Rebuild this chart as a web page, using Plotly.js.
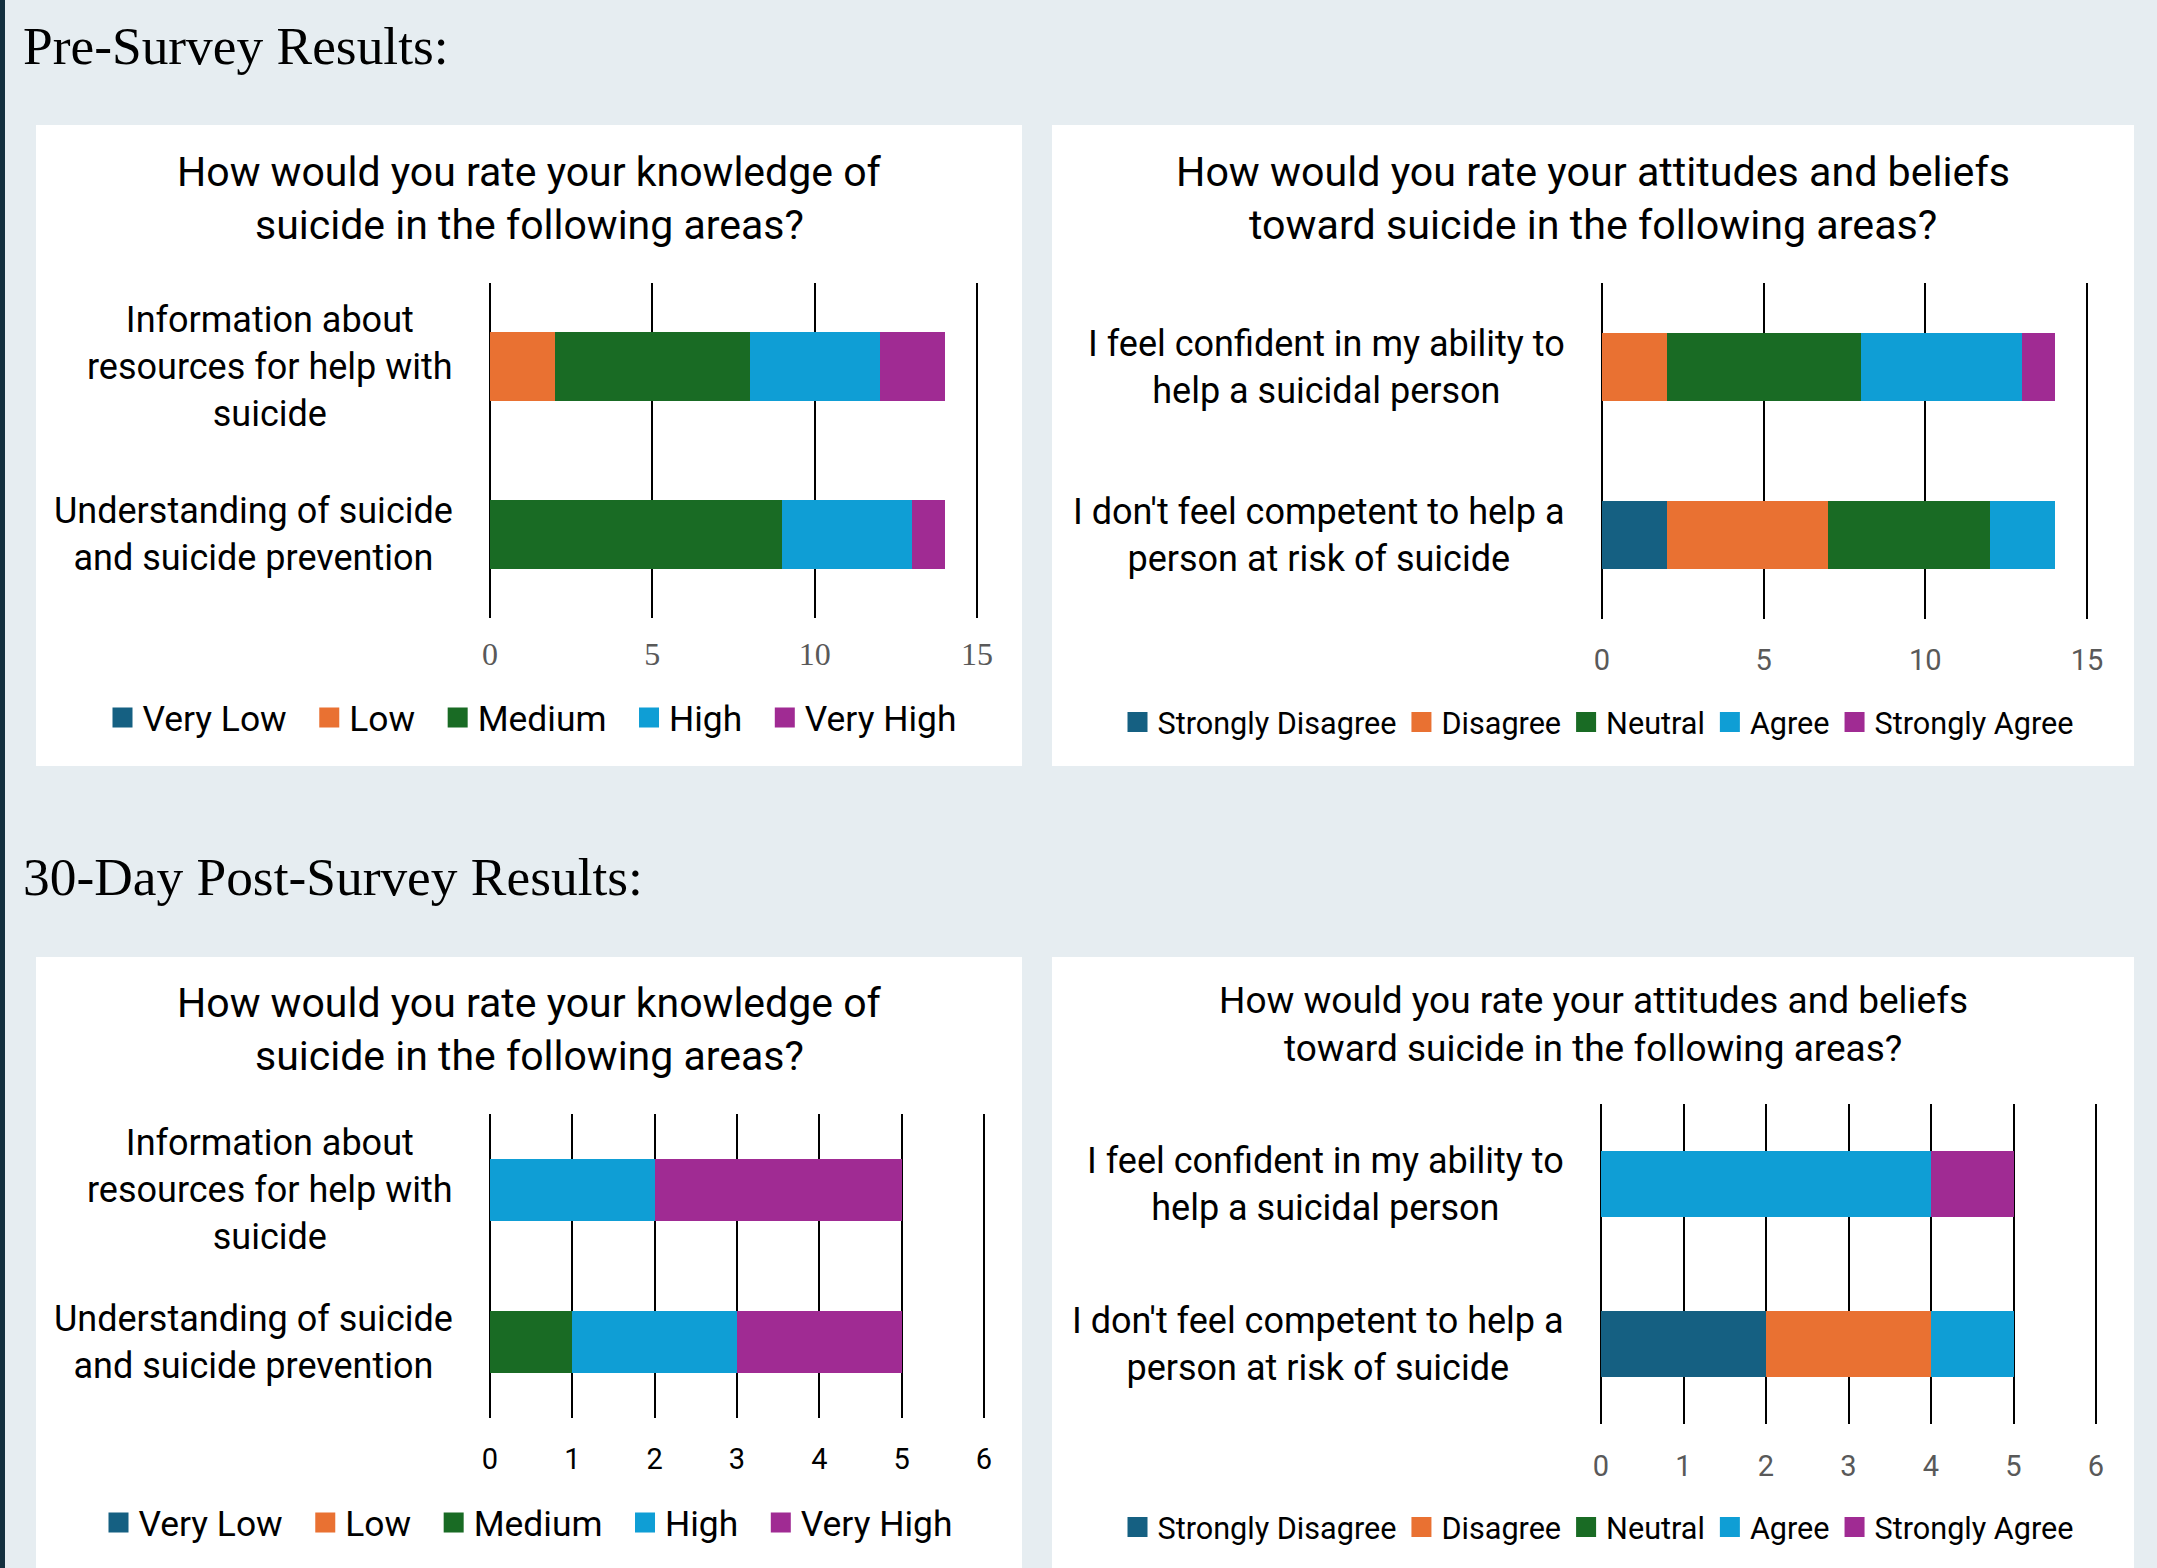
<!DOCTYPE html>
<html>
<head>
<meta charset="utf-8">
<script src="https://cdn.plot.ly/plotly-3.0.1.min.js"></script>
<style>
  html, body { margin: 0; padding: 0; background: #E6EDF1; }
  #chart { width: 2157px; height: 1568px; }
</style>
</head>
<body>
<div id="chart"></div>
<script>
// ---------------- DATA ----------------
const knowledgeCategories = ['Information about resources for help with suicide', 'Understanding of suicide and suicide prevention'];
const knowledgeTickLabels = ['Information about<br>resources for help with<br>suicide', 'Understanding of suicide<br>and suicide prevention'];
const attitudeCategories = ['I feel confident in my ability to help a suicidal person', "I don't feel competent to help a person at risk of suicide"];
const attitudeTickLabels = ['I feel confident in my ability to<br>help a suicidal person', "I don't feel competent to help a<br>person at risk of suicide"];

const knowledgeLevels = ['Very Low', 'Low', 'Medium', 'High', 'Very High'];
const attitudeLevels = ['Strongly Disagree', 'Disagree', 'Neutral', 'Agree', 'Strongly Agree'];

// Pre-survey knowledge
const preKnowVeryLow  = [0, 0];
const preKnowLow      = [2, 0];
const preKnowMedium   = [6, 9];
const preKnowHigh     = [4, 4];
const preKnowVeryHigh = [2, 1];
// Pre-survey attitudes
const preAttStronglyDisagree = [0, 2];
const preAttDisagree         = [2, 5];
const preAttNeutral          = [6, 5];
const preAttAgree            = [5, 2];
const preAttStronglyAgree    = [1, 0];
// Post-survey knowledge
const postKnowVeryLow  = [0, 0];
const postKnowLow      = [0, 0];
const postKnowMedium   = [0, 1];
const postKnowHigh     = [2, 2];
const postKnowVeryHigh = [3, 2];
// Post-survey attitudes
const postAttStronglyDisagree = [0, 2];
const postAttDisagree         = [0, 2];
const postAttNeutral          = [0, 0];
const postAttAgree            = [4, 1];
const postAttStronglyAgree    = [1, 0];

const preTicks = [0, 5, 10, 15];
const postTicks = [0, 1, 2, 3, 4, 5, 6];

// ---------------- STYLE ----------------
const levelColors = ['#156082', '#E97132', '#196B24', '#0F9ED5', '#A02B93'];
const SANS = 'Roboto, "Liberation Sans", Arial, sans-serif';
const SERIF = '"Liberation Serif", "Times New Roman", serif';
const W = 2157, H = 1568;
const fx = p => p / W;
const fy = p => 1 - p / H;
const NB = '\u00A0\u00A0';

function makeTraces(levels, seriesList, cats, xa, ya, legendId, pad) {
  return levels.map((lvl, i) => ({
    type: 'bar', orientation: 'h', name: lvl + (pad && i < levels.length - 1 ? NB : ''),
    x: seriesList[i], y: cats,
    xaxis: xa, yaxis: ya, legend: legendId,
    marker: { color: levelColors[i], line: { width: 0 } },
    hoverinfo: 'skip'
  }));
}

const traces = [].concat(
  makeTraces(knowledgeLevels, [preKnowVeryLow, preKnowLow, preKnowMedium, preKnowHigh, preKnowVeryHigh], knowledgeCategories, 'x', 'y', 'legend', true),
  makeTraces(attitudeLevels, [preAttStronglyDisagree, preAttDisagree, preAttNeutral, preAttAgree, preAttStronglyAgree], attitudeCategories, 'x2', 'y2', 'legend2', false),
  makeTraces(knowledgeLevels, [postKnowVeryLow, postKnowLow, postKnowMedium, postKnowHigh, postKnowVeryHigh], knowledgeCategories, 'x3', 'y3', 'legend3', true),
  makeTraces(attitudeLevels, [postAttStronglyDisagree, postAttDisagree, postAttNeutral, postAttAgree, postAttStronglyAgree], attitudeCategories, 'x4', 'y4', 'legend4', false)
);

function xAxis(x0, x1, ticks, anchor, font, standoff) {
  const lo = ticks[0], hi = ticks[ticks.length - 1];
  const unit = (x1 - x0) / (hi - lo);
  const padPx = 2, padU = padPx / unit;
  return {
    domain: [fx(x0 - padPx), fx(x1 + padPx)], anchor: anchor,
    range: [lo - padU, hi + padU],
    tickvals: ticks, ticktext: ticks.map(String),
    showgrid: true, gridcolor: '#000000', gridwidth: 2,
    zeroline: false, showline: false, ticks: '',
    tickfont: font, ticklabelstandoff: standoff,
    fixedrange: true
  };
}
function yAxis(domain, cats, anchor) {
  return {
    domain: domain, anchor: anchor, type: 'category',
    categoryorder: 'array', categoryarray: cats,
    autorange: 'reversed',
    showgrid: false, zeroline: false, showline: false,
    showticklabels: false, ticks: '', fixedrange: true
  };
}
function legendCfg(xc, yc, size) {
  return {
    orientation: 'h', x: fx(xc), xanchor: 'center', y: fy(yc), yanchor: 'middle',
    font: { family: SANS, size: size, color: '#000000' },
    bgcolor: 'rgba(0,0,0,0)', traceorder: 'normal', itemclick: false, itemdoubleclick: false
  };
}

const panelShapes = [
  [36, 125, 1022, 766], [1052, 125, 2134, 766],
  [36, 957, 1022, 1568], [1052, 957, 2134, 1568]
].map(r => ({
  type: 'rect', xref: 'paper', yref: 'paper', layer: 'below',
  x0: fx(r[0]), x1: fx(r[2]), y0: fy(r[3]), y1: fy(r[1]),
  fillcolor: '#FFFFFF', line: { width: 0 }
}));
panelShapes.push({
  type: 'rect', xref: 'paper', yref: 'paper', layer: 'above',
  x0: 0, x1: fx(5), y0: 0, y1: 1, fillcolor: '#13303F', line: { width: 0 }
});

const annotations = [];
function textAnn(text, x, y, size, family, xanchor) {
  annotations.push({
    text: text, xref: 'paper', yref: 'paper', x: fx(x), y: fy(y),
    xanchor: xanchor || 'center', yanchor: 'middle', showarrow: false,
    font: { family: family || SANS, size: size, color: '#000000' }
  });
}
// Section headings
textAnn('Pre-Survey Results:', 21, 46, 53.4, SERIF, 'left');
textAnn('30-Day Post-Survey Results:', 21, 877, 53.4, SERIF, 'left');
// Chart titles
textAnn('How would you rate your knowledge of', 529, 172, 41);
textAnn('suicide in the following areas?', 529, 225, 41);
textAnn('How would you rate your attitudes and beliefs', 1593, 172, 41.2);
textAnn('toward suicide in the following areas?', 1593, 225, 41.2);
textAnn('How would you rate your knowledge of', 529, 1003, 41);
textAnn('suicide in the following areas?', 529, 1056, 41);
textAnn('How would you rate your attitudes and beliefs', 1593, 1001, 37);
textAnn('toward suicide in the following areas?', 1593, 1048, 37);

// Category labels (tied to the category axes)
function catLabels(cats, labels, xa, ya) {
  cats.forEach((c, i) => {
    annotations.push({
      text: labels[i], xref: xa + ' domain', yref: ya, x: 0, y: c,
      xanchor: 'right', yanchor: 'middle', xshift: -33, align: 'center',
      showarrow: false, font: { family: SANS, size: 36, color: '#000000' }
    });
  });
}
catLabels(knowledgeCategories, knowledgeTickLabels, 'x', 'y');
catLabels(attitudeCategories, attitudeTickLabels, 'x2', 'y2');
catLabels(knowledgeCategories, knowledgeTickLabels, 'x3', 'y3');
catLabels(attitudeCategories, attitudeTickLabels, 'x4', 'y4');

const layout = {
  width: W, height: H,
  margin: { l: 0, r: 0, t: 0, b: 0, pad: 0 },
  paper_bgcolor: '#E6EDF1', plot_bgcolor: 'rgba(0,0,0,0)',
  barmode: 'stack', bargap: 0.59,
  showlegend: true,
  xaxis:  xAxis(490, 977, preTicks, 'y', { family: SERIF, size: 32, color: '#595959' }, 14),
  yaxis:  yAxis([fy(618), fy(283)], knowledgeCategories, 'x'),
  xaxis2: xAxis(1602, 2087, preTicks, 'y2', { family: SANS, size: 29, color: '#595959' }, 21),
  yaxis2: yAxis([fy(619), fy(283)], attitudeCategories, 'x2'),
  xaxis3: xAxis(490, 984, postTicks, 'y3', { family: SANS, size: 29, color: '#000000' }, 21),
  yaxis3: yAxis([fy(1418), fy(1114)], knowledgeCategories, 'x3'),
  xaxis4: xAxis(1601, 2096, postTicks, 'y4', { family: SANS, size: 29, color: '#595959' }, 22),
  yaxis4: yAxis([fy(1424), fy(1104)], attitudeCategories, 'x4'),
  legend:  legendCfg(532, 718, 35.4),
  legend2: legendCfg(1598, 722, 30.6),
  legend3: legendCfg(528, 1523, 35.4),
  legend4: legendCfg(1598, 1527, 30.6),
  shapes: panelShapes,
  annotations: annotations,
  hovermode: false
};

Plotly.newPlot('chart', traces, layout, { displayModeBar: false, staticPlot: true }).then(() => {
  document.querySelectorAll('.legendpoints path').forEach(p => {
    p.setAttribute('d', 'M10,10H-10V-10H10Z');
  });
});
</script>
</body>
</html>
